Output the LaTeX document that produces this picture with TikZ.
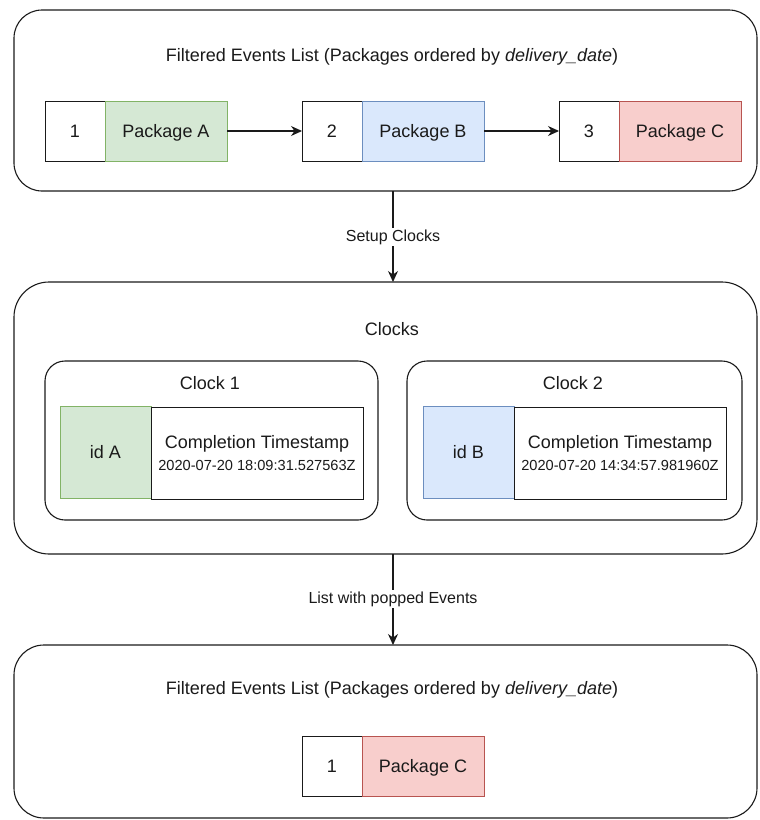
\documentclass[tikz,border=0pt]{standalone}
\usepackage{fontspec}
\setmainfont{Liberation Sans}
\usetikzlibrary{arrows.meta}
\definecolor{gfill}{HTML}{D5E8D4}
\definecolor{gline}{HTML}{82B366}
\definecolor{bfill}{HTML}{DAE8FC}
\definecolor{bline}{HTML}{6C8EBF}
\definecolor{rfill}{HTML}{F8CECC}
\definecolor{rline}{HTML}{B85450}
\definecolor{ink}{HTML}{1A1A1A}
\begin{document}
\begin{tikzpicture}[x=1pt,y=-1pt,
  every node/.style={inner sep=0pt, outer sep=0pt, text=ink},
  big/.style={font=\fontsize{18}{21}\selectfont},
  small/.style={font=\fontsize{16}{19}\selectfont},
  capcentre/.style={text height=17pt, text depth=4pt},
  frame/.style={draw=ink, line width=1.1pt, rounded corners=28pt},
  clockbox/.style={draw=ink, line width=1.1pt, rounded corners=20pt},
  cell/.style={draw=ink, line width=1pt, fill=white, minimum height=60pt, minimum width=60pt, big, capcentre},
  pkg/.style={draw=#1line, line width=1pt, fill=#1fill, minimum height=60pt, minimum width=122pt, big, capcentre},
  idcell/.style={draw=#1line, line width=1pt, fill=#1fill, minimum height=92pt, minimum width=91pt, big, capcentre},
  tscell/.style={draw=ink, line width=1pt, fill=white, minimum height=92pt, minimum width=212pt, align=center, big},
  flow/.style={draw=ink, line width=1.1pt, -{Stealth[length=11pt,width=10pt]}},
  edgelabel/.style={fill=white, inner sep=2pt, small}
]
\useasboundingbox (0,0) rectangle (760,820);

% first list of filtered events
\node[frame, minimum width=743pt, minimum height=181pt] (top) at (385.5,100.5) {};
\node[big] (toptitle) at (392,57) {Filtered Events List (Packages ordered by \textit{delivery\_date})};
\node[cell] (n1) at (75,131) {1};
\node[pkg=g] (pa) at (166,131) {Package A};
\node[cell] (n2) at (332,131) {2};
\node[pkg=b] (pb) at (423,131) {Package B};
\node[cell] (n3) at (589,131) {3};
\node[pkg=r] (pc) at (680,131) {Package C};
\draw[flow] (pa.east) -- (n2.west);
\draw[flow] (pb.east) -- (n3.west);

% clocks
\node[frame, rounded corners=35pt, minimum width=743pt, minimum height=272pt] (mid) at (385.5,418) {};
\node[big] (midtitle) at (392,329) {Clocks};

\node[clockbox, minimum width=333pt, minimum height=159pt] (c1) at (211.5,440.5) {};
\node[big] (c1title) at (210,383) {Clock 1};
\node[idcell=g] (ida) at (105.5,452) {id A};
\node[tscell] (tsa) at (257,453) {Completion Timestamp\\[1pt]{\fontsize{14.6}{17}\selectfont 2020-07-20 18:09:31.527563Z}};

\node[clockbox, minimum width=335pt, minimum height=159pt] (c2) at (574.5,440.5) {};
\node[big] (c2title) at (573,383) {Clock 2};
\node[idcell=b] (idb) at (468.5,452) {id B};
\node[tscell] (tsb) at (620,453) {Completion Timestamp\\[1pt]{\fontsize{14.6}{17}\selectfont 2020-07-20 14:34:57.981960Z}};

% remaining list after popping
\node[frame, rounded corners=30pt, minimum width=743pt, minimum height=173pt] (bot) at (385.5,731.5) {};
\node[big] (bottitle) at (392,690) {Filtered Events List (Packages ordered by \textit{delivery\_date})};
\node[cell] (m1) at (332,766) {1};
\node[pkg=r] (mc) at (423,766) {Package C};

% transitions between the stages
\coordinate (axis) at (393,0);
\draw[flow] (top.south -| axis) -- (mid.north -| axis);
\node[edgelabel] (setup) at (393,237) {Setup Clocks};
\draw[flow] (mid.south -| axis) -- (bot.north -| axis);
\node[edgelabel] (popped) at (393,599) {List with popped Events};
\end{tikzpicture}
\end{document}
